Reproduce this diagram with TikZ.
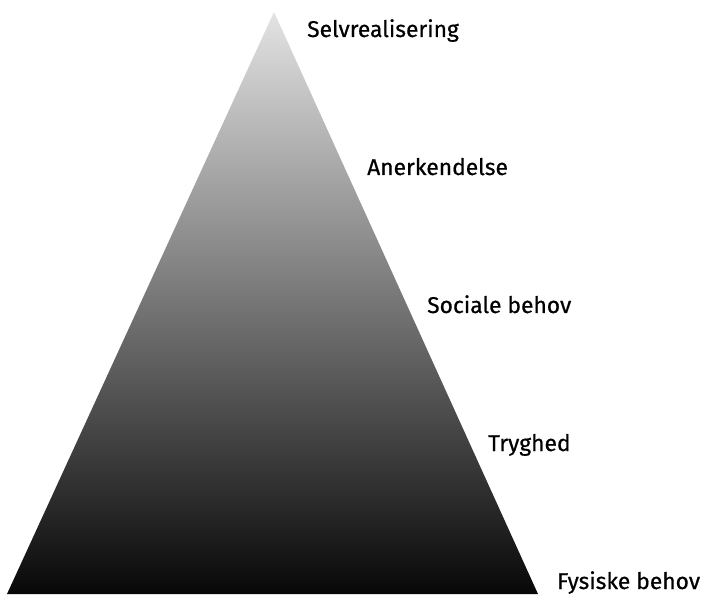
\documentclass[tikz,border=0pt]{standalone}
\usepackage{fontspec}
\setmainfont{Fira Sans}
\newfontfamily\lblfont[FakeBold=0.6]{Fira Sans}
\begin{document}
\begin{tikzpicture}[x=1pt,y=1pt,
  lbl/.style={anchor=base west,inner sep=0pt,font=\lblfont\fontsize{22.8}{24}\selectfont,text=black}]
\useasboundingbox (0,0) rectangle (708,597);
\coordinate (apex) at (274,585);
\coordinate (bl) at (7,3);
\coordinate (br) at (538,3);
\shade[top color=black!11,bottom color=black!97] (apex) -- (br) -- (bl) -- cycle;
\node[lbl] (l1) at (307,560) {Selvrealisering};
\node[lbl] (l2) at (367,422) {Anerkendelse};
\node[lbl] (l3) at (427,284) {Sociale behov};
\node[lbl] (l4) at (488,146) {Tryghed};
\node[lbl] (l5) at (557,8) {Fysiske behov};
\end{tikzpicture}
\end{document}
